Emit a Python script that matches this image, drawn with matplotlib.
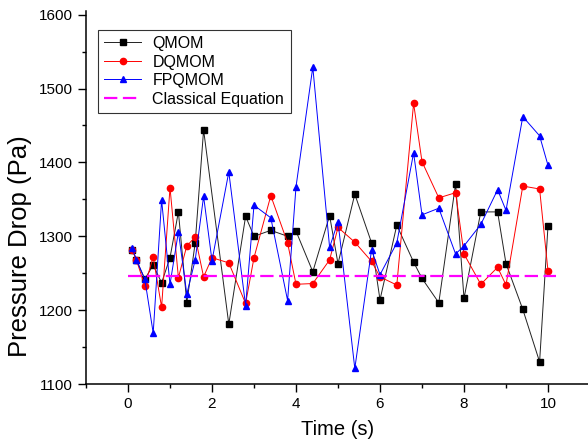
import numpy as np
import matplotlib
matplotlib.use("Agg")
import matplotlib.pyplot as plt
from matplotlib.ticker import MultipleLocator

plt.rcParams['font.family'] = ['Liberation Sans', 'DejaVu Sans']

# data
t_qmom = [0.1, 0.2, 0.4, 0.6, 0.8, 1.0, 1.2, 1.4, 1.6, 1.8, 2.4, 2.8, 3.0, 3.4, 3.8, 4.0, 4.4,
          4.8, 5.0, 5.4, 5.8, 6.0, 6.4, 6.8, 7.0, 7.4, 7.8, 8.0, 8.4, 8.8, 9.0, 9.4, 9.8, 10.0]
p_qmom = [1282, 1268, 1242, 1261, 1237, 1271, 1333, 1210, 1291, 1444, 1181, 1327, 1300, 1308,
          1300, 1307, 1252, 1328, 1263, 1357, 1291, 1214, 1315, 1265, 1243, 1210, 1371, 1216,
          1333, 1333, 1263, 1201, 1130, 1314]

t_dq = [0.1, 0.2, 0.4, 0.6, 0.8, 1.0, 1.2, 1.4, 1.6, 1.8, 2.0, 2.4, 2.8, 3.0, 3.4, 3.8, 4.0, 4.4,
        4.8, 5.0, 5.4, 5.8, 6.0, 6.4, 6.8, 7.0, 7.4, 7.8, 8.0, 8.4, 8.8, 9.0, 9.4, 9.8, 10.0]
p_dqmom = [1282, 1268, 1233, 1272, 1204, 1366, 1244, 1287, 1299, 1245, 1271, 1264, 1209, 1271,
           1355, 1291, 1235, 1236, 1268, 1312, 1292, 1266, 1245, 1234, 1480, 1401, 1352, 1359,
           1276, 1235, 1258, 1234, 1368, 1364, 1253]
p_fpqmom = [1284, 1268, 1242, 1169, 1349, 1235, 1306, 1222, 1268, 1354, 1267, 1387, 1206, 1342,
            1325, 1213, 1367, 1529, 1285, 1320, 1121, 1282, 1248, 1291, 1413, 1329, 1338, 1276,
            1287, 1316, 1363, 1335, 1462, 1436, 1396]

t_classic = [0, 10.2]
p_classic = [1246, 1246]

fig = plt.figure(figsize=(5.88, 4.47), dpi=100)
ax = fig.add_axes([86/588, 63/447, 504/588, 373/447])

ax.plot(t_qmom, p_qmom, color='#222222', lw=0.7, marker='s', ms=4, mfc='k', mec='k', label='QMOM')
ax.plot(t_dq, p_dqmom, color='red', lw=0.7, marker='o', ms=4.5, label='DQMOM')
ax.plot(t_dq, p_fpqmom, color='blue', lw=0.7, marker='^', ms=5, label='FPQMOM')
ax.plot(t_classic, p_classic, color='magenta', lw=1.6, dashes=(6, 2.5), label='Classical Equation')

ax.set_xlim(-1, 11)
ax.set_ylim(1100, 1605)
ax.set_xticks([0, 2, 4, 6, 8, 10])
ax.set_yticks([1100, 1200, 1300, 1400, 1500, 1600])
ax.xaxis.set_minor_locator(MultipleLocator(1))
ax.yaxis.set_minor_locator(MultipleLocator(50))
ax.tick_params(which='major', direction='out', length=6, width=1, labelsize=11)
ax.tick_params(which='minor', direction='out', length=3, width=1)
for side in ['top', 'right']:
    ax.spines[side].set_visible(False)
for side in ['left', 'bottom']:
    ax.spines[side].set_linewidth(1.1)

ax.set_xlabel('Time (s)', fontsize=14.5, labelpad=6)
ax.set_ylabel('Pressure Drop (Pa)', fontsize=18.5)
ax.yaxis.set_label_coords(-0.108, 0.37)

leg = ax.legend(loc='upper left', bbox_to_anchor=(0.024, 0.95), borderaxespad=0,
                fontsize=11.5, frameon=True, fancybox=False, edgecolor='k',
                handlelength=2.3, handletextpad=0.7, labelspacing=0.22, borderpad=0.4)
leg.get_frame().set_linewidth(0.8)

fig.savefig('out.png', dpi=100)
